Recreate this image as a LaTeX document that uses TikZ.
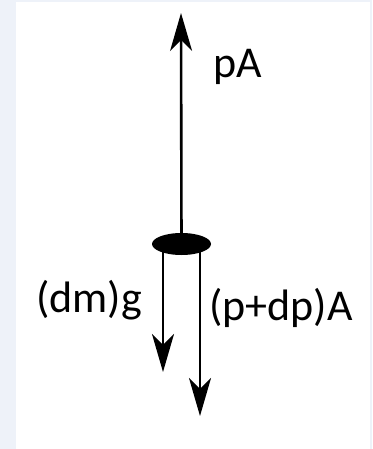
\documentclass[tikz,border=0pt]{standalone}
\usepackage{fontspec}
\setmainfont{Carlito}
\usetikzlibrary{arrows.meta, shapes.geometric, backgrounds}

\definecolor{framegray}{HTML}{EEF2F9}

\begin{document}
\begin{tikzpicture}[
   x=1pt, y=-1pt,
   force/.style={-{Stealth[length=38pt, width=22pt, inset=11pt]}, line width=2.6pt},
   lbl/.style={font=\fontsize{44}{48}\selectfont, anchor=base west, inner sep=0pt},
   mass/.style={ellipse, fill=black, minimum width=59pt, minimum height=22pt, inner sep=0pt},
  ]
  % frame and page
  \useasboundingbox (0,0) rectangle (372,449);

  \node[mass] (body) at (181.5,244) {};

  \coordinate (pAtip)  at (181,13);
  \coordinate (dmgtip) at (163,372);
  \coordinate (dptip)  at (200,416);

  \node[lbl] (pA)  at (213,78)  {pA};
  \node[lbl] (dmg) at (36,312)  {(dm)g};
  \node[lbl] (dpA) at (209,320) {(p+dp)A};

  \begin{scope}[on background layer]
    \fill[framegray] (0,0) rectangle (372,449);
    \fill[white] (16,2) rectangle (370,449);
    \draw[force] (body.center) -- (pAtip);
    \draw[force] (body.center -| dmgtip) -- (dmgtip);
    \draw[force] (body.center -| dptip) -- (dptip);
  \end{scope}
 \end{tikzpicture}
\end{document}
